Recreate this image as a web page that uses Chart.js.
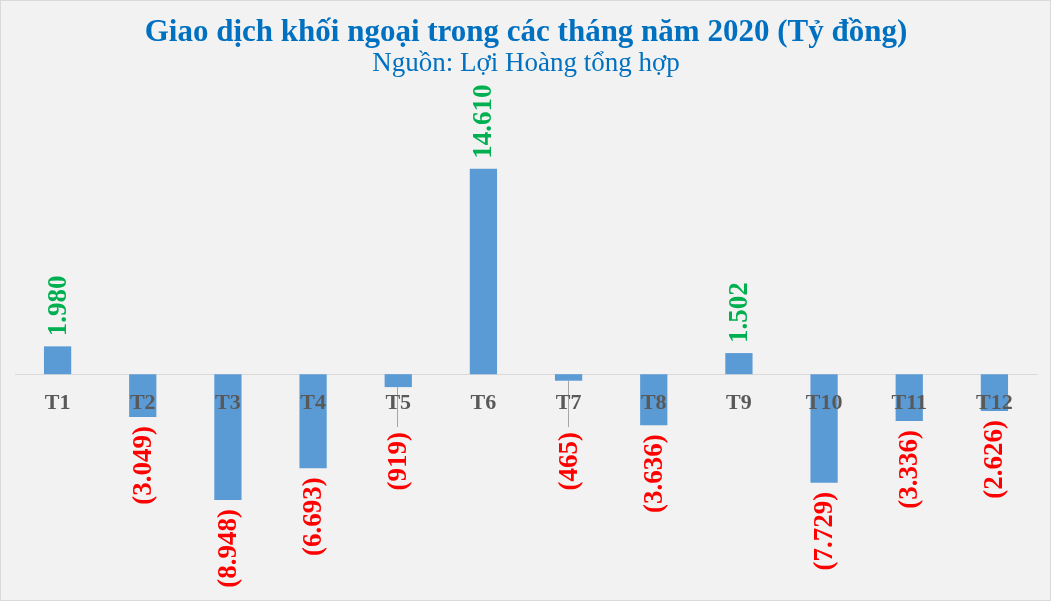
<!DOCTYPE html>
<html>
<head>
<meta charset="utf-8">
<script src="https://cdn.jsdelivr.net/npm/chart.js@4.4.1/dist/chart.umd.min.js"></script>
<style>
  html, body { margin: 0; padding: 0; background: #f2f2f2; }
  #wrap { width: 1051px; height: 601px; box-sizing: border-box; border: 1px solid #d9d9d9; background: #f2f2f2; }
</style>
</head>
<body>
<div id="wrap"><canvas id="chart"></canvas></div>
<script>
var months = ["T1", "T2", "T3", "T4", "T5", "T6", "T7", "T8", "T9", "T10", "T11", "T12"];
var netValues = [1980, -3049, -8948, -6693, -919, 14610, -465, -3636, 1502, -7729, -3336, -2626];

var serif = "'Liberation Serif', 'Times New Roman', serif";

// 1980 -> "1.980", -3049 -> "(3.049)"
function fmt(v) {
    var s = String(Math.abs(v)).replace(/\B(?=(\d{3})+(?!\d))/g, '.');
    return v < 0 ? '(' + s + ')' : s;
}

// rotated value labels, green above / red below, leader line when pushed down
var valueLabels = {
    id: 'valueLabels',
    afterDatasetsDraw: function(chart) {
        var ctx = chart.ctx;
        var meta = chart.getDatasetMeta(0);
        var data = chart.data.datasets[0].data;
        ctx.save();
        ctx.font = 'bold 27px ' + serif;
        ctx.textBaseline = 'middle';
        meta.data.forEach(function(bar, i) {
            var v = data[i];
            var x = bar.x, y = bar.y;
            if (v >= 0) {
                ctx.save();
                ctx.translate(x, y - 10);
                ctx.rotate(-Math.PI / 2);
                ctx.fillStyle = '#00b050';
                ctx.textAlign = 'left';
                ctx.fillText(fmt(v), 0, 1);
                ctx.restore();
            } else {
                var start = y + 9;
                if (start < 405) {
                    // too close to the month label: push down and draw a leader
                    start = 431;
                    ctx.strokeStyle = '#a6a6a6';
                    ctx.lineWidth = 1;
                    ctx.beginPath();
                    ctx.moveTo(Math.round(x) - 0.5, y);
                    ctx.lineTo(Math.round(x) - 0.5, start - 5);
                    ctx.stroke();
                }
                ctx.save();
                ctx.translate(x, start);
                ctx.rotate(-Math.PI / 2);
                ctx.fillStyle = '#ff0000';
                ctx.textAlign = 'right';
                ctx.fillText(fmt(v), 0, 1);
                ctx.restore();
            }
        });
        ctx.restore();
    }
};

new Chart(document.getElementById('chart'), {
    type: 'bar',
    data: {
        labels: months,
        datasets: [{
            label: 'Giao dịch khối ngoại',
            data: netValues,
            backgroundColor: '#5b9bd5',
            borderWidth: 0,
            barPercentage: 0.32,
            categoryPercentage: 1
        }]
    },
    options: {
        responsive: true,
        maintainAspectRatio: false,
        animation: false,
        layout: { padding: { left: 14, right: 13, top: 0, bottom: 15 } },
        plugins: {
            legend: { display: false },
            tooltip: { enabled: false },
            title: {
                display: true,
                text: 'Giao dịch khối ngoại trong các tháng năm 2020 (Tỷ đồng)',
                color: '#0070c0',
                font: { family: serif, size: 31, weight: 'bold', lineHeight: 1.1 },
                padding: { top: 15, bottom: 0 }
            },
            subtitle: {
                display: true,
                text: 'Nguồn: Lợi Hoàng tổng hợp',
                color: '#0070c0',
                font: { family: serif, size: 27, lineHeight: 1.0 },
                padding: { top: 0, bottom: 16 }
            }
        },
        scales: {
            x: {
                position: { y: 0 },
                grid: { display: false, drawTicks: false },
                border: { display: true, color: '#d9d9d9', width: 1 },
                ticks: {
                    z: 1,
                    color: '#595959',
                    padding: 16,
                    maxRotation: 0,
                    font: { family: serif, size: 22, weight: 'bold' }
                }
            },
            y: {
                display: false,
                min: -15000,
                max: 20000
            }
        }
    },
    plugins: [valueLabels]
});
</script>
</body>
</html>
